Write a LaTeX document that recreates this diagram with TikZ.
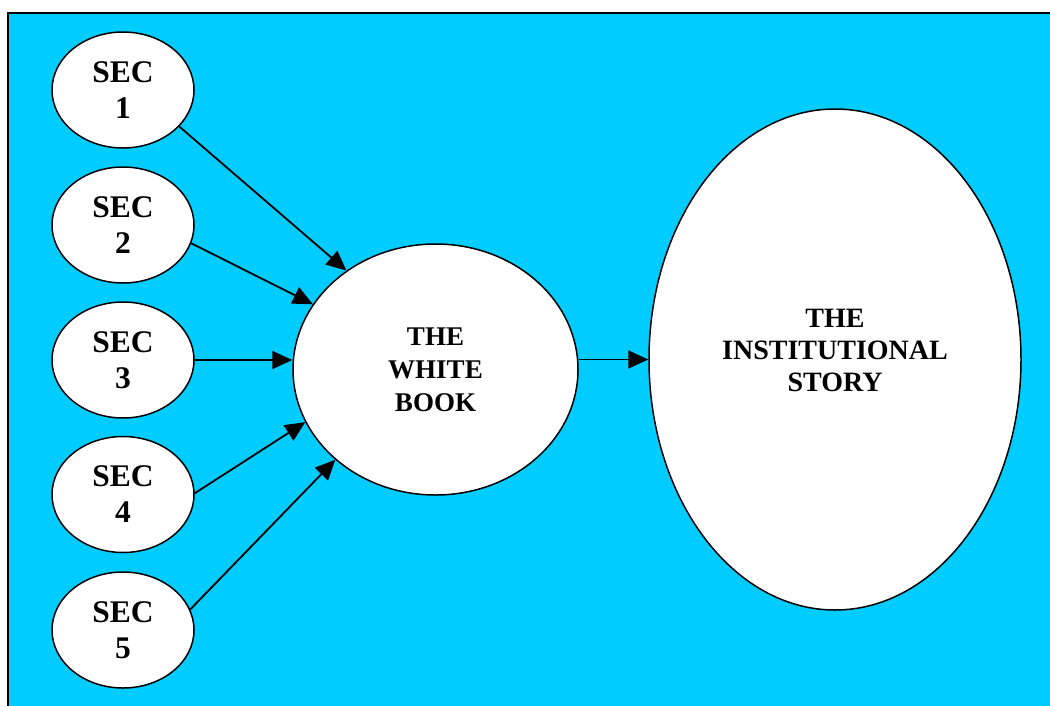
\documentclass[tikz,border=0pt]{standalone}
\usepackage{fontspec}
\setmainfont{Liberation Serif}
\usetikzlibrary{shapes.geometric, arrows.meta}
\definecolor{skyblue}{HTML}{00CCFF}

\begin{document}
\begin{tikzpicture}[x=1pt, y=-1pt,
    secnode/.style={ellipse, draw, line width=1.5pt, fill=white, minimum width=142pt, minimum height=116pt, inner sep=0pt, align=center, font=\bfseries\fontsize{31.5}{36}\selectfont},
    bignode/.style={ellipse, draw, line width=1.5pt, fill=white, inner sep=0pt, align=center},
    feed/.style={line width=1.8pt, -{Triangle[length=20pt, width=18pt]}}]

    % Fix the page size and clip the frame
    \useasboundingbox (0,0) rectangle (1050,705);
    \clip (0,0) rectangle (1050,705);

    % Draw blue background frame
    \draw[line width=2pt, fill=skyblue] (8,13) rectangle (1070,725);

    % Draw the five sections
    \foreach \i/\y in {1/90, 2/225, 3/360, 4/494.5, 5/630} {
        \node[secnode] (sec\i) at (123,\y) {SEC\\\i};
    }

    % Draw the white book
    \node[bignode, minimum width=285pt, minimum height=251pt, font=\bfseries\fontsize{27}{33}\selectfont] (book) at (435.5,369.5) {THE\\WHITE\\BOOK};

    % Draw the institutional story
    \node[bignode, minimum width=372pt, minimum height=501pt] (story) at (835,359.5) {};
    \node[font=\bfseries\fontsize{28}{32}\selectfont, align=center] (storytext) at ([yshift=9.5pt]story.center) {THE\\INSTITUTIONAL\\STORY};

    % Draw arrows into the white book
    \foreach \i/\a/\b in {1/-33/132, 2/-15/152, 4/1/202, 5/17/222} {
        \draw[feed] (sec\i.\a) -- (book.\b);
    }
    \draw[feed] (sec3.east) -- (sec3.east -| book.west);

    % Draw arrow into the story
    \draw[feed] (book.east |- story.west) -- (story.west);
\end{tikzpicture}
\end{document}
